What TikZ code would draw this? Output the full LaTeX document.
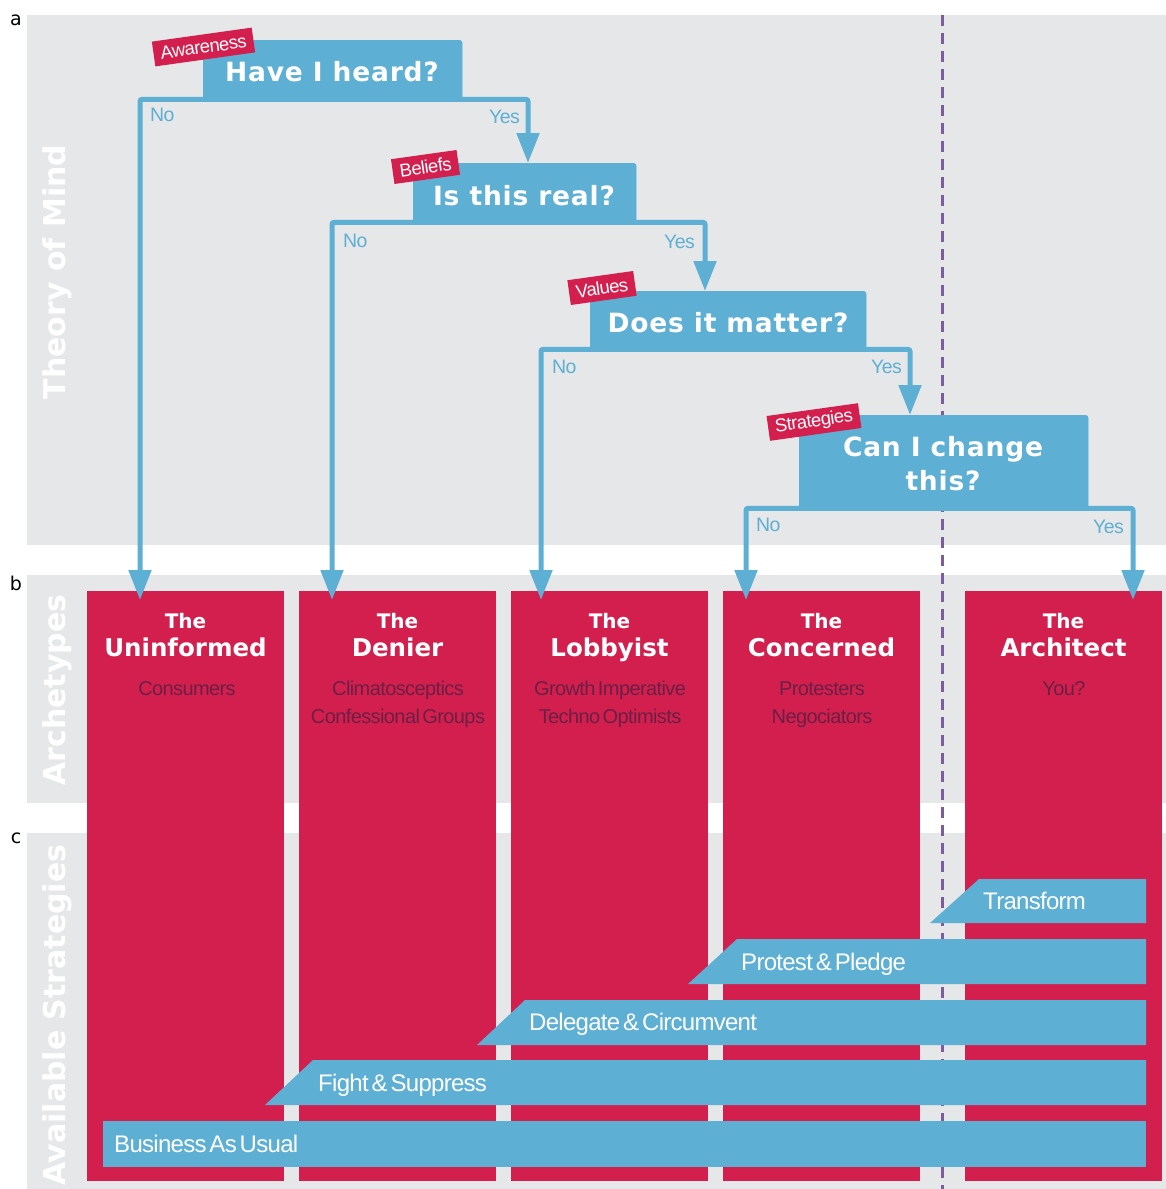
\documentclass[tikz,border=0pt]{standalone}
\usepackage{fontspec}
\setmainfont{DejaVu Sans}
\newfontfamily\qfont[LetterSpace=3]{DejaVu Sans}
\newfontfamily\tfont{DejaVu Sans}
\newfontfamily\nfont[LetterSpace=-3,WordSpace=0.5]{Liberation Sans}
\usetikzlibrary{arrows.meta}
\definecolor{bggray}{HTML}{E6E7E8}
\definecolor{qblue}{HTML}{5DAFD4}
\definecolor{crim}{HTML}{D21F4E}
\definecolor{darkcrim}{HTML}{6B1F45}
\definecolor{dashpurple}{HTML}{7E5B9A}
\begin{document}
\begin{tikzpicture}[x=1pt,y=-1pt,
  colbox/.style={fill=crim, inner sep=0pt, minimum width=197pt, minimum height=590pt, anchor=north west},
  qbox/.style={fill=qblue, rounded corners=3pt, inner sep=0pt, anchor=north west},
  qtext/.style={text=white, font=\qfont\bfseries\fontsize{26.5}{30}\selectfont, anchor=base, inner sep=0pt},
  tagbox/.style={fill=crim, text=white, font=\nfont\fontsize{18.5}{20}\selectfont, inner xsep=7pt, inner ysep=0pt, minimum height=25pt, rotate=8},
  conn/.style={draw=qblue, line width=5pt, rounded corners=2pt, {Triangle[width=22pt,length=30pt]}-{Triangle[width=22pt,length=30pt]}},
  yn/.style={text=qblue, font=\nfont\fontsize{19.5}{22}\selectfont, inner sep=0pt},
  arthe/.style={text=white, font=\tfont\bfseries\fontsize{20}{24}\selectfont, anchor=base, inner sep=0pt},
  arname/.style={text=white, font=\tfont\bfseries\fontsize{24.5}{28}\selectfont, anchor=base, inner sep=0pt},
  arsub/.style={text=darkcrim, font=\nfont\fontsize{20}{24}\selectfont, anchor=base, inner sep=0pt},
  bartext/.style={text=white, font=\nfont\fontsize{24}{28}\selectfont, anchor=base west, inner sep=0pt},
  vlabel/.style={text=white, font=\tfont\bfseries\fontsize{30}{34}\selectfont, rotate=90, inner sep=0pt},
  plabel/.style={text=black, font=\tfont\fontsize{19}{22}\selectfont, anchor=base, inner sep=0pt}
]
\useasboundingbox (0,0) rectangle (1166,1189);
% panels
\fill[bggray] (27,15) rectangle (1166,545);
\fill[bggray] (27,575) rectangle (1166,803);
\fill[bggray] (27,833) rectangle (1166,1189);
\node[plabel] (pa) at (16,25) {a};
\node[plabel] (pb) at (16,590) {b};
\node[plabel] (pc) at (16,843) {c};
\node[vlabel] (v1) at (57,272) {Theory of Mind};
\node[vlabel] (v2) at (57,690) {Archetypes};
\node[vlabel] (v3) at (57,1015) {Available Strategies};
% dashed divider
\coordinate (dtop) at (942,15);
\coordinate (dbot) at (942,1189);
\draw[dashpurple, line width=3pt, dash pattern=on 11pt off 7pt] (dtop) -- (dbot);
% archetype columns
\node[colbox] (c1) at (87,591) {};
\node[colbox] (c2) at (299,591) {};
\node[colbox] (c3) at (511,591) {};
\node[colbox] (c4) at (723,591) {};
\node[colbox] (c5) at (965,591) {};
% question boxes (shapes)
\node[qbox, minimum width=259pt, minimum height=59pt] (q1) at (203,40) {};
\node[qbox, minimum width=223pt, minimum height=59pt] (q2) at (413,163) {};
\node[qbox, minimum width=276pt, minimum height=58pt] (q3) at (590,291) {};
\node[qbox, minimum width=289pt, minimum height=93pt] (q4) at (799,415) {};
% arrow end points
\coordinate (n1) at (140,600);
\coordinate (n2) at (332,600);
\coordinate (n3) at (541,600);
\coordinate (n4) at (746,600);
\coordinate (y1) at (528,163);
\coordinate (y2) at (705,291);
\coordinate (y3) at (910,415);
\coordinate (y4) at (1133,600);
\draw[conn] (n1) |- (q1.south) -| (y1);
\draw[conn] (n2) |- (q2.south) -| (y2);
\draw[conn] (n3) |- (q3.south) -| (y3);
\draw[conn] (n4) |- (q4.south) -| (y4);
% redraw boxes above lines
\fill[qblue, rounded corners=3pt] (q1.north west) rectangle (q1.south east);
\fill[qblue, rounded corners=3pt] (q2.north west) rectangle (q2.south east);
\fill[qblue, rounded corners=3pt] (q3.north west) rectangle (q3.south east);
\fill[qblue, rounded corners=3pt] (q4.north west) rectangle (q4.south east);
% question texts
\node[qtext] (q1t) at (332,81) {Have I heard?};
\node[qtext] (q2t) at (524,205) {Is this real?};
\node[qtext] (q3t) at (728,332) {Does it matter?};
\node[qtext] (q4t) at (943,456) {Can I change};
\node[qtext] (q4u) at (943,490) {this?};
% tags
\node[tagbox] (t1) at (203.5,47) {Awareness};
\node[tagbox] (t2) at (425.5,167) {Beliefs};
\node[tagbox] (t3) at (602,288) {Values};
\node[tagbox] (t4) at (814,422) {Strategies};
% yes / no labels
\node[yn, anchor=base west] (no1) at (150,121) {No};
\node[yn, anchor=base east] (ye1) at (520,123) {Yes};
\node[yn, anchor=base west] (no2) at (343,247) {No};
\node[yn, anchor=base east] (ye2) at (695,248) {Yes};
\node[yn, anchor=base west] (no3) at (552,373) {No};
\node[yn, anchor=base east] (ye3) at (902,373) {Yes};
\node[yn, anchor=base west] (no4) at (756,531) {No};
\node[yn, anchor=base east] (ye4) at (1124,533) {Yes};
% archetype texts
\node[arthe] (c1a) at (185.5,628) {The};
\node[arname] (c1b) at (185.5,656) {Uninformed};
\node[arsub] (c1c) at (187,695) {Consumers};
\node[arthe] (c2a) at (397.5,628) {The};
\node[arname] (c2b) at (397.5,656) {Denier};
\node[arsub] (c2c) at (398,695) {Climatosceptics};
\node[arsub] (c2d) at (398,723) {Confessional Groups};
\node[arthe] (c3a) at (609.5,628) {The};
\node[arname] (c3b) at (609.5,656) {Lobbyist};
\node[arsub] (c3c) at (610,695) {Growth Imperative};
\node[arsub] (c3d) at (610,723) {Techno Optimists};
\node[arthe] (c4a) at (821.5,628) {The};
\node[arname] (c4b) at (821.5,656) {Concerned};
\node[arsub] (c4c) at (822,695) {Protesters};
\node[arsub] (c4d) at (822,723) {Negociators};
\node[arthe] (c5a) at (1063.5,628) {The};
\node[arname] (c5b) at (1063.5,656) {Architect};
\node[arsub] (c5c) at (1064,695) {You?};
% strategy bars
\fill[qblue] (979,879) -- (1146,879) -- (1146,923) -- (930,923) -- cycle;
\fill[qblue] (737,939) -- (1146,939) -- (1146,984) -- (688,984) -- cycle;
\fill[qblue] (525,1000) -- (1146,1000) -- (1146,1045) -- (477,1045) -- cycle;
\fill[qblue] (313,1060) -- (1146,1060) -- (1146,1105) -- (265,1105) -- cycle;
\fill[qblue] (103,1121) -- (1146,1121) -- (1146,1167) -- (103,1167) -- cycle;
\node[bartext] (s1) at (983,909) {Transform};
\node[bartext] (s2) at (741,970) {Protest \& Pledge};
\node[bartext] (s3) at (529,1030) {Delegate \& Circumvent};
\node[bartext] (s4) at (318,1091) {Fight \& Suppress};
\node[bartext] (s5) at (114,1152) {Business As Usual};
\end{tikzpicture}
\end{document}
